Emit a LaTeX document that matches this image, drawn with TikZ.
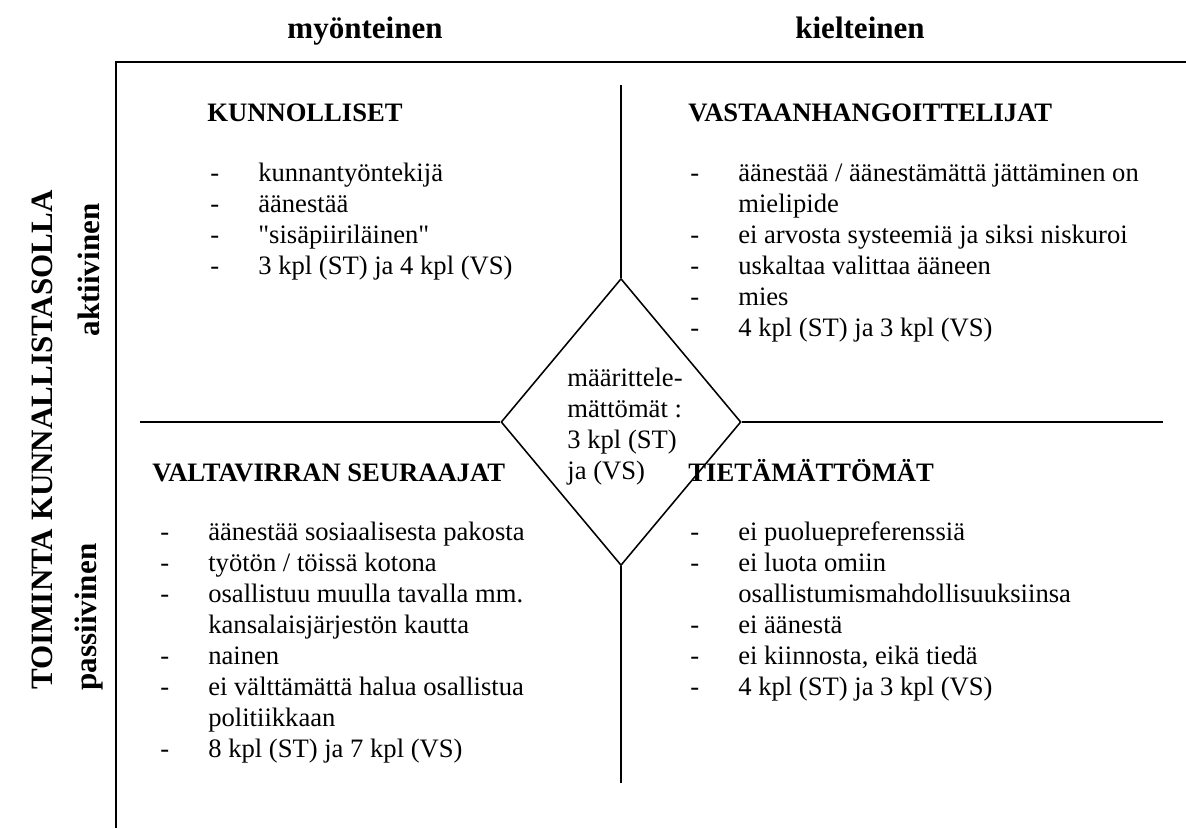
\documentclass[tikz,border=0pt]{standalone}
\usepackage{fontspec}
\setmainfont{Liberation Serif}
\usetikzlibrary{shapes.geometric}

\begin{document}
\begin{tikzpicture}[x=0.451pt,y=-0.451pt]
\tikzstyle{teksti}=[font=\fontsize{12}{14}\selectfont,inner sep=0pt]
\tikzstyle{otsikko}=[font=\fontsize{12}{14}\selectfont\bfseries,inner sep=0pt,anchor=base west]
\tikzstyle{akseli}=[font=\fontsize{14}{16}\selectfont\bfseries,inner sep=0pt]
\tikzstyle{lista}=[teksti,anchor=base west]
\tikzstyle{viiva}=[line width=0.9pt]
\useasboundingbox (0,0) rectangle (1186,828);
% ========= akselit
\node (myon) at (365,38) [akseli,anchor=base] {myönteinen};
\node (kiel) at (860,38) [akseli,anchor=base] {kielteinen};
\node (toim) at (42,440) [akseli,rotate=90] {TOIMINTA KUNNALLISTASOLLA};
\node (akti) at (89,270) [akseli,rotate=90] {aktiivinen};
\node (pass) at (89,617) [akseli,rotate=90] {passiivinen};
\coordinate (kulma) at (116,62);
\draw [viiva] (1186,62) -- (kulma) -- (116,828);

% ========= keskusta
\node (keski) at (621,422) [diamond,draw,line width=0.7pt,inner sep=0pt,
  minimum width=108.2pt,minimum height=129.4pt] {};
\node (keskit) at (625,427) [teksti,align=left]
  {määrittele-\\mättömät :\\3 kpl (ST)\\ja (VS)};
\coordinate (yla) at (621,85);
\coordinate (ala) at (621,783);
\coordinate (vasen) at (140,422);
\coordinate (oikea) at (1163,422);
\draw [viiva] (yla) -- (keski.north);
\draw [viiva] (keski.south) -- (ala);
\draw [viiva] (vasen) -- (keski.west);
\draw [viiva] (keski.east) -- (oikea);

% ========= lohkot
\node (kunn) at (207,121) [otsikko] {KUNNOLLISET};
\node (kunnl) at (210,181) [lista] {\begin{tabular}[t]{@{}p{21.6pt}@{}l@{}}
- & kunnantyöntekijä\\
- & äänestää\\
- & \textquotedbl sisäpiiriläinen\textquotedbl\\
- & 3 kpl (ST) ja 4 kpl (VS)
\end{tabular}};

\node (vast) at (688,121) [otsikko] {VASTAANHANGOITTELIJAT};
\node (vastl) at (690,181) [lista] {\begin{tabular}[t]{@{}p{21.6pt}@{}l@{}}
- & äänestää / äänestämättä jättäminen on\\
  & mielipide\\
- & ei arvosta systeemiä ja siksi niskuroi\\
- & uskaltaa valittaa ääneen\\
- & mies\\
- & 4 kpl (ST) ja 3 kpl (VS)
\end{tabular}};

\node (valt) at (152,481) [otsikko] {VALTAVIRRAN SEURAAJAT};
\node (valtl) at (160,540) [lista] {\begin{tabular}[t]{@{}p{21.6pt}@{}l@{}}
- & äänestää sosiaalisesta pakosta\\
- & työtön / töissä kotona\\
- & osallistuu muulla tavalla mm.\\
  & kansalaisjärjestön kautta\\
- & nainen\\
- & ei välttämättä halua osallistua\\
  & politiikkaan\\
- & 8 kpl (ST) ja 7 kpl (VS)
\end{tabular}};

\node (tiet) at (688,481) [otsikko] {TIETÄMÄTTÖMÄT};
\node (tietl) at (690,540) [lista] {\begin{tabular}[t]{@{}p{21.6pt}@{}l@{}}
- & ei puoluepreferenssiä\\
- & ei luota omiin\\
  & osallistumismahdollisuuksiinsa\\
- & ei äänestä\\
- & ei kiinnosta, eikä tiedä\\
- & 4 kpl (ST) ja 3 kpl (VS)
\end{tabular}};
\end{tikzpicture}
\end{document}
